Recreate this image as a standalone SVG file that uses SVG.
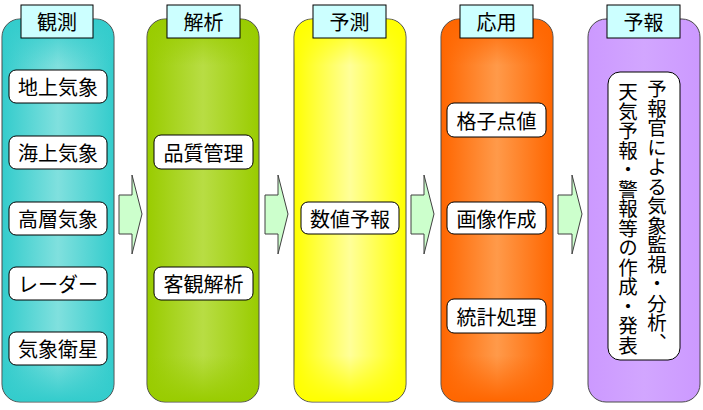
<svg xmlns="http://www.w3.org/2000/svg" width="703" height="410" viewBox="0 0 703 410">
<defs>
<linearGradient id="gTeal" x1="0" y1="0" x2="1" y2="0"><stop offset="0" stop-color="#33CCCC"/><stop offset="0.5" stop-color="#80E0DE"/><stop offset="1" stop-color="#33CCCC"/></linearGradient>
<linearGradient id="gGreen" x1="0" y1="0" x2="1" y2="0"><stop offset="0" stop-color="#99CC00"/><stop offset="0.5" stop-color="#B8DD44"/><stop offset="1" stop-color="#99CC00"/></linearGradient>
<linearGradient id="gYellow" x1="0" y1="0" x2="1" y2="0"><stop offset="0" stop-color="#FFFF00"/><stop offset="0.5" stop-color="#FFFF99"/><stop offset="1" stop-color="#FFFF00"/></linearGradient>
<linearGradient id="gOrange" x1="0" y1="0" x2="1" y2="0"><stop offset="0" stop-color="#FF6600"/><stop offset="0.5" stop-color="#FF9A4A"/><stop offset="1" stop-color="#FF6600"/></linearGradient>
<linearGradient id="gPurple" x1="0" y1="0" x2="1" y2="0"><stop offset="0" stop-color="#CC99FF"/><stop offset="0.5" stop-color="#D2A6FF"/><stop offset="1" stop-color="#CC99FF"/></linearGradient>
<linearGradient id="vTeal" x1="0" y1="0" x2="0" y2="1"><stop offset="0" stop-color="#33CCCC" stop-opacity="1"/><stop offset="0.12" stop-color="#33CCCC" stop-opacity="0"/><stop offset="0.88" stop-color="#33CCCC" stop-opacity="0"/><stop offset="1" stop-color="#33CCCC" stop-opacity="1"/></linearGradient>
<linearGradient id="vGreen" x1="0" y1="0" x2="0" y2="1"><stop offset="0" stop-color="#99CC00" stop-opacity="1"/><stop offset="0.12" stop-color="#99CC00" stop-opacity="0"/><stop offset="0.88" stop-color="#99CC00" stop-opacity="0"/><stop offset="1" stop-color="#99CC00" stop-opacity="1"/></linearGradient>
<linearGradient id="vYellow" x1="0" y1="0" x2="0" y2="1"><stop offset="0" stop-color="#FFFF00" stop-opacity="1"/><stop offset="0.12" stop-color="#FFFF00" stop-opacity="0"/><stop offset="0.88" stop-color="#FFFF00" stop-opacity="0"/><stop offset="1" stop-color="#FFFF00" stop-opacity="1"/></linearGradient>
<linearGradient id="vOrange" x1="0" y1="0" x2="0" y2="1"><stop offset="0" stop-color="#FF6600" stop-opacity="1"/><stop offset="0.12" stop-color="#FF6600" stop-opacity="0"/><stop offset="0.88" stop-color="#FF6600" stop-opacity="0"/><stop offset="1" stop-color="#FF6600" stop-opacity="1"/></linearGradient>
</defs>
<style>
.panel{stroke:#4a4a4a;stroke-width:1}
.ov{stroke:none}
.title{fill:#CCFFFF;stroke:#000;stroke-width:1}
.box{fill:#fff;stroke:#000;stroke-width:1}
.t{font-family:"Noto Sans CJK JP","Noto Sans CJK SC",sans-serif;font-size:20px;fill:#000;text-anchor:middle;dominant-baseline:central}
.vt{font-family:"Noto Sans CJK JP","Noto Sans CJK SC",sans-serif;font-size:19.5px;fill:#000;writing-mode:vertical-rl;text-anchor:start}
.arrow{fill:#CCFFCC;stroke:#404040;stroke-width:1;stroke-linejoin:miter}
</style>
<rect width="703" height="410" fill="#fff"/>

<g id="connectors">
<polygon class="arrow" points="119,195 132,195 132,175 142,214 132,254 132,234 119,234"/>
<polygon class="arrow" points="265,195 278,195 278,175 288,214 278,254 278,234 265,234"/>
<polygon class="arrow" points="411,195 424,195 424,175 434,214 424,254 424,234 411,234"/>
<polygon class="arrow" points="558,195 572,195 572,175 582,214 572,254 572,234 558,234"/>
</g>

<g id="kansoku">
<rect class="panel" x="2" y="19" width="112" height="383" rx="18" fill="url(#gTeal)"/>
<rect class="ov" x="2.5" y="19.5" width="111" height="382" rx="18" fill="url(#vTeal)"/>
<rect class="title" x="21" y="5" width="72" height="33"/>
<text class="t" x="57" y="21.5">観測</text>
<rect class="box" x="9" y="70" width="98" height="33" rx="7"/>
<text class="t" x="58" y="86.5">地上気象</text>
<rect class="box" x="9" y="136" width="98" height="33" rx="7"/>
<text class="t" x="58" y="152.5">海上気象</text>
<rect class="box" x="9" y="202" width="98" height="33" rx="7"/>
<text class="t" x="58" y="218.5">高層気象</text>
<rect class="box" x="9" y="267" width="98" height="33" rx="7"/>
<text class="t" x="58" y="283.5">レーダー</text>
<rect class="box" x="9" y="332" width="98" height="33" rx="7"/>
<text class="t" x="58" y="348.5">気象衛星</text>
</g>

<g id="kaiseki">
<rect class="panel" x="147" y="19" width="112" height="383" rx="18" fill="url(#gGreen)"/>
<rect class="ov" x="147.5" y="19.5" width="111" height="382" rx="18" fill="url(#vGreen)"/>
<rect class="title" x="167" y="5" width="73" height="33"/>
<text class="t" x="203.5" y="21.5">解析</text>
<rect class="box" x="154" y="135" width="99" height="34" rx="7"/>
<text class="t" x="203.5" y="152">品質管理</text>
<rect class="box" x="154" y="267" width="99" height="33" rx="7"/>
<text class="t" x="203.5" y="283.5">客観解析</text>
</g>

<g id="yosoku">
<rect class="panel" x="294" y="19" width="112" height="383" rx="18" fill="url(#gYellow)"/>
<rect class="ov" x="294.5" y="19.5" width="111" height="382" rx="18" fill="url(#vYellow)"/>
<rect class="title" x="313" y="5" width="73" height="33"/>
<text class="t" x="349.5" y="21.5">予測</text>
<rect class="box" x="301" y="202" width="98" height="32" rx="7"/>
<text class="t" x="350" y="218">数値予報</text>
</g>

<g id="ouyou">
<rect class="panel" x="441" y="19" width="112" height="383" rx="18" fill="url(#gOrange)"/>
<rect class="ov" x="441.5" y="19.5" width="111" height="382" rx="18" fill="url(#vOrange)"/>
<rect class="title" x="460" y="5" width="73" height="33"/>
<text class="t" x="496.5" y="21.5">応用</text>
<rect class="box" x="447" y="103" width="99" height="34" rx="7"/>
<text class="t" x="496.5" y="120">格子点値</text>
<rect class="box" x="447" y="202" width="99" height="32" rx="7"/>
<text class="t" x="496.5" y="218">画像作成</text>
<rect class="box" x="447" y="299" width="99" height="34" rx="7"/>
<text class="t" x="496.5" y="316">統計処理</text>
</g>

<g id="yohou">
<rect class="panel" x="588" y="19" width="112" height="383" rx="18" fill="url(#gPurple)"/>
<rect class="title" x="607" y="5" width="73" height="33"/>
<text class="t" x="643.5" y="21.5">予報</text>
<rect class="box" x="608" y="72" width="72" height="288" rx="12"/>
<text class="vt" x="657" y="79">予報官による気象監視・分析、</text>
<text class="vt" x="628" y="82">天気予報・警報等の作成・発表</text>
</g>
</svg>
